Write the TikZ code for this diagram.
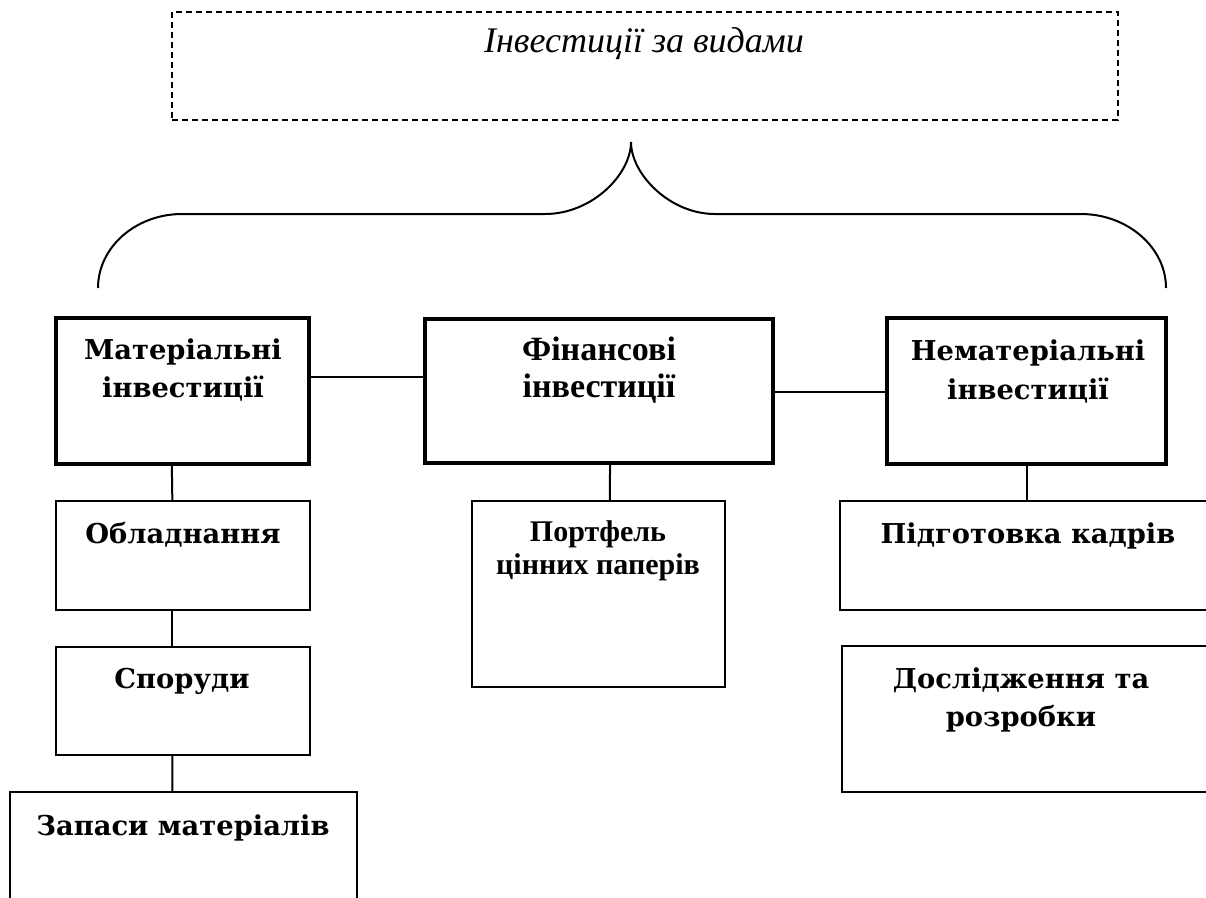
\documentclass[tikz,border=0pt]{standalone}
\usepackage{fontspec}
\setmainfont{DejaVu Serif}
\newfontfamily\timesfont{Liberation Serif}
\begin{document}
\begin{tikzpicture}[x=0.75pt,y=-0.75pt,
  heavybox/.style={draw,rectangle,line width=3pt,inner sep=0pt},
  lightbox/.style={draw,rectangle,line width=1.5pt,inner sep=0pt},
  dashbox/.style={draw,rectangle,line width=1.4pt,dash pattern=on 4.5pt off 3pt,inner sep=0pt},
  link/.style={line width=1.5pt},
  brace/.style={line width=1.5pt},
  lbl/.style={font=\bfseries\fontsize{20.5}{28.5}\selectfont,align=center,anchor=base,inner sep=0pt},
  lblt/.style={font=\timesfont\bfseries\fontsize{25.5}{27.75}\selectfont,align=center,anchor=base,inner sep=0pt},
  lblts/.style={font=\timesfont\bfseries\fontsize{22.5}{24.75}\selectfont,align=center,anchor=base,inner sep=0pt},
  headline/.style={font=\timesfont\itshape\fontsize{27}{30}\selectfont,anchor=base,inner sep=0pt}]
\useasboundingbox (0,0) rectangle (1206,897);
\clip (0,0) rectangle (1206,897);

% heading box
\node[dashbox,minimum width=709.5pt,minimum height=81pt] (head) at (645,66) {};
\node[headline] (headtxt) at (644,52) {Інвестиції за видами};

% brace below the heading
\coordinate (bl) at (98,288);
\coordinate (br) at (1166,288);
\coordinate (tip) at (631,142);
\draw[brace] (bl) .. controls (98,247) and (136,214) .. (182,214) -- (545,214)
  .. controls (592.5,214) and (631,174) .. (tip)
  .. controls (631,174) and (669.5,214) .. (715,214) -- (1081,214)
  .. controls (1127,214) and (1166,247) .. (br);

% main groups (text nodes are placed at the baseline of their last line)
\node[heavybox,minimum width=189.75pt,minimum height=109.5pt] (mat) at (182.5,391) {};
\node[heavybox,minimum width=261pt,minimum height=108pt] (fin) at (599,391) {};
\node[heavybox,minimum width=209.25pt,minimum height=109.5pt] (nemat) at (1026.5,391) {};
\node[lbl] (mattxt) at (183,397) {Матеріальні\\інвестиції};
\node[lblt] (fintxt) at (599,397) {Фінансові\\інвестиції};
\node[lbl,font=\bfseries\fontsize{20.5}{29.25}\selectfont] (nemattxt) at (1028,399) {Нематеріальні\\інвестиції};

% items
\node[lightbox,minimum width=190.5pt,minimum height=81.75pt] (obl) at (183,555.5) {};
\node[lightbox,minimum width=190.5pt,minimum height=81pt] (spor) at (183,701) {};
\node[lightbox,minimum width=260.25pt,minimum height=103.5pt] (zap) at (183.5,861) {};
\node[lightbox,minimum width=189.75pt,minimum height=139.5pt] (port) at (598.5,594) {};
\node[lightbox,minimum width=292.5pt,minimum height=81.75pt] (pidg) at (1035,555.5) {};
\node[lightbox,minimum width=291pt,minimum height=109.5pt] (dosl) at (1036,719) {};

\node[lbl] (obltxt) at (183,543) {Обладнання};
\node[lbl] (sportxt) at (182,688) {Споруди};
\node[lbl] (zaptxt) at (183,835) {Запаси матеріалів};
\node[lblts] (porttxt) at (598,574) {Портфель\\цінних паперів};
\node[lbl] (pidgtxt) at (1028,543) {Підготовка кадрів};
\node[lbl] (dosltxt) at (1021,726) {Дослідження та\\розробки};

% connectors
\draw[link] ([yshift=10.5pt]mat.east) -- ([yshift=10.5pt]fin.west);
\draw[link] ([yshift=-0.75pt]fin.east) -- ([yshift=-0.75pt]nemat.west);
\draw[link] ([xshift=-8pt]mat.south) -- ([xshift=-8pt]obl.north);
\draw[link] ([xshift=-8pt]obl.south) -- ([xshift=-8pt]spor.north);
\draw[link] ([xshift=-8pt]spor.south) -- ([xshift=-8.4pt]zap.north);
\draw[link] ([xshift=8.25pt]fin.south) -- ([xshift=8.6pt]port.north);
\draw[link] (nemat.south) -- (nemat.south |- pidg.north);
\end{tikzpicture}
\end{document}
